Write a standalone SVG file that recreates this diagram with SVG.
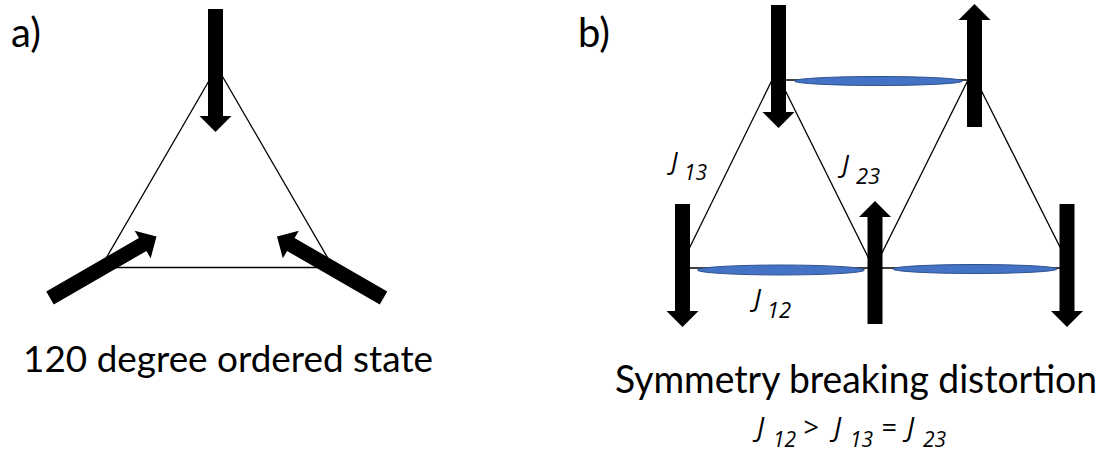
<svg xmlns="http://www.w3.org/2000/svg" xmlns:xlink="http://www.w3.org/1999/xlink" width="1111" height="453" viewBox="0 0 1111 453">
<style>
.edge{stroke:#000;stroke-width:1.3;fill:none}
.bond{fill:#4472C4;stroke:#2F528F;stroke-width:1}
.spin{fill:#000}
.t{font-family:Lato,"Open Sans","Liberation Sans",sans-serif;fill:#000}
.j{font-family:"Open Sans","Noto Sans","Liberation Sans",sans-serif;font-style:italic;fill:#000}
</style>
<defs>
<path id="arrow" d="M0,-7.5 H107 V-16 L123,0 L107,16 V7.5 H0 Z"/>
</defs>
<rect width="1111" height="453" fill="#fff"/>
<g id="connectors">
<line class="edge" x1="217" y1="67" x2="101" y2="267"/>
<line class="edge" x1="217" y1="67" x2="333" y2="267"/>
<line class="edge" x1="101" y1="267.5" x2="333" y2="267.5"/>
<line class="edge" x1="779" y1="80" x2="975" y2="80"/>
<line class="edge" x1="682" y1="268" x2="1067" y2="268"/>
<line class="edge" x1="776" y1="72" x2="686" y2="255"/>
<line class="edge" x1="782" y1="84" x2="871" y2="263"/>
<line class="edge" x1="972" y1="72" x2="878" y2="261"/>
<line class="edge" x1="976" y1="80" x2="1064" y2="255"/>
</g>
<g id="bonds">
<ellipse class="bond" cx="878.5" cy="81" rx="84" ry="4.5"/>
<ellipse class="bond" cx="781" cy="270" rx="83.5" ry="5"/>
<ellipse class="bond" cx="975" cy="269" rx="82" ry="4.5"/>
</g>
<g id="spin-a-top"><use class="spin" xlink:href="#arrow" transform="translate(215.5,9) rotate(90)"/></g>
<g id="spin-a-left"><use class="spin" xlink:href="#arrow" transform="translate(50,298) rotate(-30)"/></g>
<g id="spin-a-right"><use class="spin" xlink:href="#arrow" transform="translate(383.5,298) rotate(-150)"/></g>
<g id="spin-b-1"><use class="spin" xlink:href="#arrow" transform="translate(778.5,5) rotate(90)"/></g>
<g id="spin-b-2"><use class="spin" xlink:href="#arrow" transform="translate(974.5,127) rotate(-90)"/></g>
<g id="spin-b-3"><use class="spin" xlink:href="#arrow" transform="translate(682.5,204) rotate(90)"/></g>
<g id="spin-b-4"><use class="spin" xlink:href="#arrow" transform="translate(875,324) rotate(-90)"/></g>
<g id="spin-b-5"><use class="spin" xlink:href="#arrow" transform="translate(1067,204) rotate(90)"/></g>
<g id="labels">
<text class="t" x="11" y="47" font-size="40">a)</text>
<text class="t" x="578" y="47" font-size="40">b)</text>
<text class="t" x="228" y="372" font-size="37" text-anchor="middle" textLength="410" lengthAdjust="spacingAndGlyphs">120 degree ordered state</text>
<text class="t" x="856" y="393" font-size="38" text-anchor="middle" textLength="482" lengthAdjust="spacingAndGlyphs">Symmetry breaking distortion</text>
<text class="j" font-size="25"><tspan x="671" y="170">J</tspan><tspan x="684" y="180" font-size="21">13</tspan></text>
<text class="j" font-size="26"><tspan x="842" y="173">J</tspan><tspan x="856" y="184" font-size="22">23</tspan></text>
<text class="j" font-size="26"><tspan x="754" y="307">J</tspan><tspan x="767" y="318" font-size="22">12</tspan></text>
<text class="j" font-size="27"><tspan x="757" y="437">J</tspan><tspan x="773" y="447" font-size="21">12</tspan><tspan x="803" y="437">&gt;</tspan><tspan x="834" y="437">J</tspan><tspan x="850" y="447" font-size="21">13</tspan><tspan x="881" y="437">=</tspan><tspan x="907" y="437">J</tspan><tspan x="923" y="447" font-size="21">23</tspan></text>
</g>
</svg>
